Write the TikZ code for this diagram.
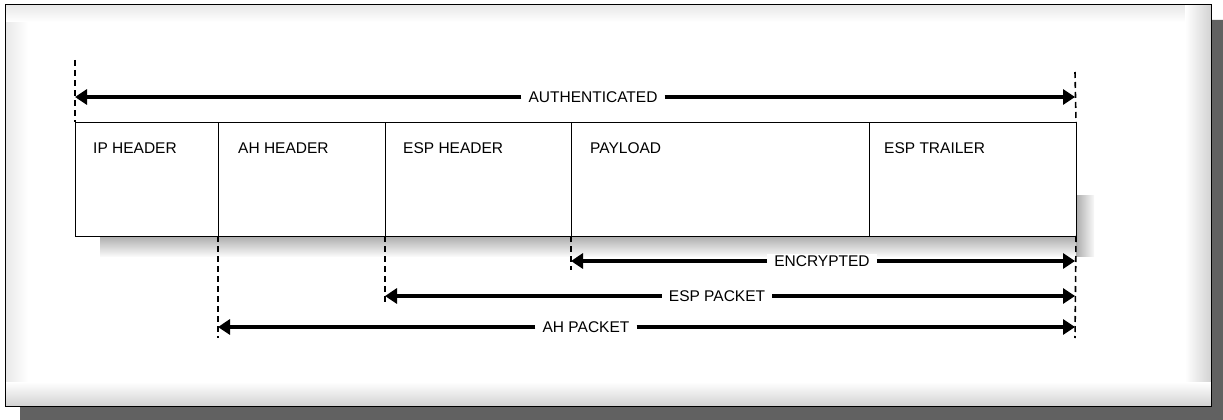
\documentclass[tikz,border=0pt]{standalone}
\usepackage{fontspec}
\setmainfont{Liberation Sans}
\usetikzlibrary{arrows.meta}
\begin{document}
\begin{tikzpicture}[x=1pt,y=-1pt,
  fieldbox/.style={draw=black, line width=0.9pt, fill=white, rectangle, inner sep=0pt, outer sep=0pt, minimum height=114pt, anchor=north west},
  fieldtext/.style={anchor=west, inner sep=0pt, font=\fontsize{15.5}{18}\selectfont},
  spanlabel/.style={fill=white, inner xsep=7pt, inner ysep=2pt, font=\fontsize{15.5}{18}\selectfont},
  spanarrow/.style={line width=3.2pt, -{Triangle[length=12pt,width=15pt]}},
  guide/.style={line width=1.6pt, dash pattern=on 6pt off 4pt}
]
\useasboundingbox (0,0) rectangle (1223,420);
% outer frame with shadow
\fill[black!62] (1211,20) -- (1223,20) -- (1223,420) -- (20,420) -- (20,406) -- (1211,406) -- cycle;
\fill[white] (5,5) rectangle (1211,406);
\shade[left color=gray!18, right color=white] (5,5) rectangle (28,406);
\shade[top color=gray!18, bottom color=white] (5,5) rectangle (1211,22);
\shade[left color=white, right color=gray!35] (1185,5) rectangle (1211,406);
\shade[top color=white, bottom color=gray!35] (5,382) rectangle (1211,406);
\draw[line width=1pt] (5,5) rectangle (1211,406);
% box shadow
\shade[top color=gray!65, bottom color=gray!5] (100,236) rectangle (1090,256);
\shade[left color=gray!65, right color=gray!5] (1076,195) rectangle (1094,256);
% fields
\node[fieldbox, minimum width=143pt] (ip) at (75,122) {};
\node[fieldbox, minimum width=167pt] (ah) at (218,122) {};
\node[fieldbox, minimum width=186pt] (esp) at (385,122) {};
\node[fieldbox, minimum width=298pt] (pay) at (571,122) {};
\node[fieldbox, minimum width=207pt] (trl) at (869,122) {};
\node[fieldtext] (iptxt) at ([shift={(18,26)}]ip.north west) {IP HEADER};
\node[fieldtext] (ahtxt) at ([shift={(20,26)}]ah.north west) {AH HEADER};
\node[fieldtext] (esptxt) at ([shift={(18,26)}]esp.north west) {ESP HEADER};
\node[fieldtext] (paytxt) at ([shift={(19,26)}]pay.north west) {PAYLOAD};
\node[fieldtext] (trltxt) at ([shift={(15,26)}]trl.north west) {ESP TRAILER};
% guide lines
\coordinate (g0t) at (75,60);
\coordinate (g5t) at (1075,72);
\coordinate (g1b) at (218,338);
\coordinate (g2b) at (385,303);
\coordinate (g3b) at (571,270);
\coordinate (g5b) at (1075,338);
\draw[guide] (g0t) -- (ip.north west);
\draw[guide] (g5t) -- (trl.north east);
\draw[guide] (ah.south west) -- (g1b);
\draw[guide] (esp.south west) -- (g2b);
\draw[guide] (pay.south west) -- (g3b);
\draw[guide] (trl.south east) -- (g5b);
% spans
\coordinate (aL) at (75,97);  \coordinate (aR) at (1075,97);
\coordinate (eL) at (571,261); \coordinate (eR) at (1075,261);
\coordinate (sL) at (385,296); \coordinate (sR) at (1075,296);
\coordinate (hL) at (218,327); \coordinate (hR) at (1075,327);
\node[spanlabel] (auth) at (593,97) {AUTHENTICATED};
\node[spanlabel] (enc) at (822,261) {ENCRYPTED};
\node[spanlabel] (espp) at (717,296) {ESP PACKET};
\node[spanlabel] (ahp) at (586,327) {AH PACKET};
\draw[spanarrow] (auth.west) -- (aL);
\draw[spanarrow] (auth.east) -- (aR);
\draw[spanarrow] (enc.west) -- (eL);
\draw[spanarrow] (enc.east) -- (eR);
\draw[spanarrow] (espp.west) -- (sL);
\draw[spanarrow] (espp.east) -- (sR);
\draw[spanarrow] (ahp.west) -- (hL);
\draw[spanarrow] (ahp.east) -- (hR);
\end{tikzpicture}
\end{document}
